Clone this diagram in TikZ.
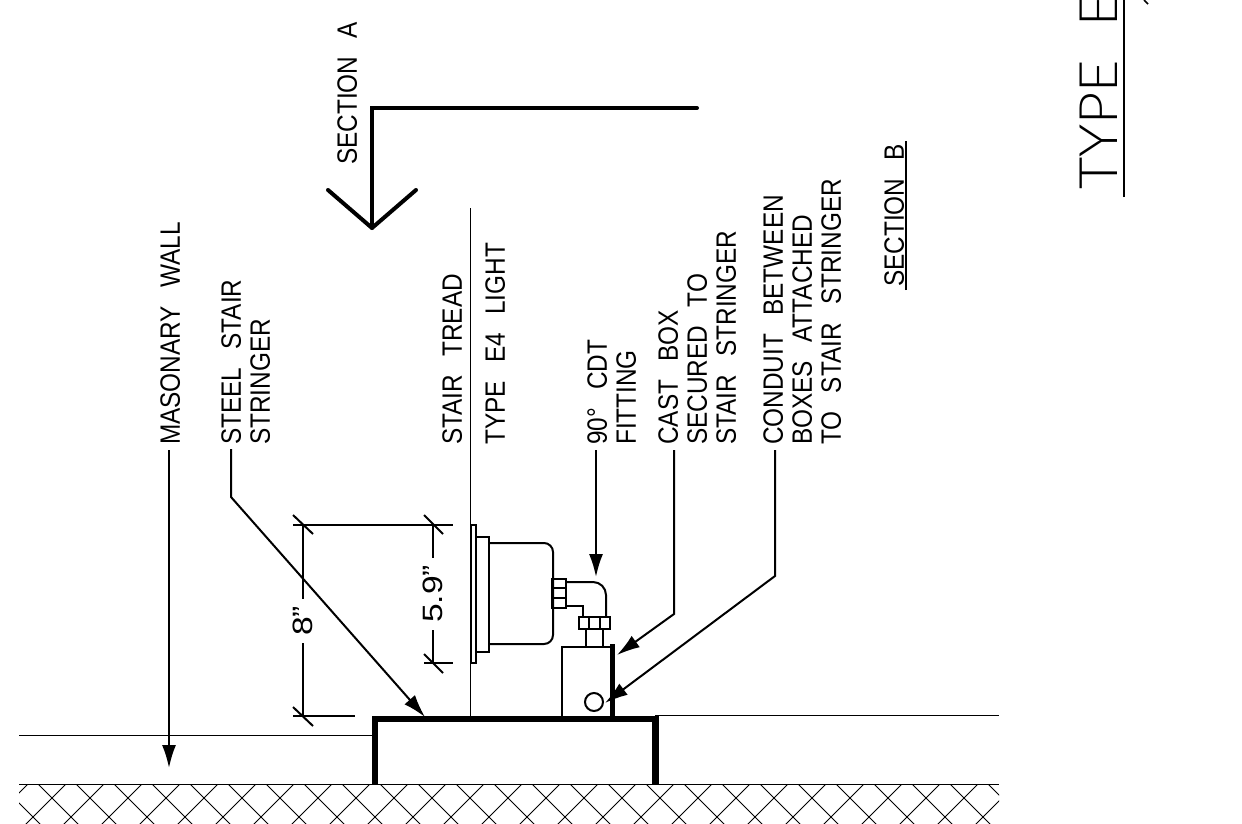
\documentclass[tikz,border=0pt]{standalone}
\usepackage{fontspec}
\usetikzlibrary{arrows.meta}
\newfontfamily\notefont[FakeStretch=0.87,WordSpace=2.7]{Liberation Sans}
\newfontfamily\dimfont[FakeStretch=1.2]{Liberation Sans}
\newfontfamily\titlefont[UprightFont=* Light,FakeStretch=1.05,WordSpace=2.2]{Lato}
\tikzset{
  note/.style={rotate=90,anchor=north west,inner sep=0pt,align=left,font=\notefont\fontsize{28}{29}\selectfont},
  dimtext/.style={rotate=90,inner sep=7pt,font=\dimfont\fontsize{28}{29}\selectfont},
  leader/.style={line width=2pt},
  thin line/.style={line width=1pt},
  part/.style={line width=2pt},
  heavy/.style={line width=6.3pt}
}
\begin{document}
\begin{tikzpicture}[x=1pt,y=-1pt,>={Latex[length=23pt,width=14pt]}]
      \useasboundingbox (0,0) rectangle (1242,823);
      % text
      \node[note] (wall) at (160,445) {MASONARY WALL};
      \node[note] (steel) at (221,445) {STEEL STAIR\\STRINGER};
      \node[note] (tread) at (442,445) {STAIR TREAD};
      \node[note] (light) at (485,445) {TYPE E4 LIGHT};
      \node[note] (elbow) at (587,445) {90° CDT\\FITTING};
      \node[note] (cast) at (658,445) {CAST BOX\\SECURED TO\\STAIR STRINGER};
      \node[note] (conduit) at (763,445) {CONDUIT BETWEEN\\BOXES ATTACHED\\TO STAIR STRINGER};
      \node[note] (secta) at (337,165) {SECTION A};
      \node[note] (sectb) at (884,287) {SECTION B};
      \node[rotate=90,anchor=north west,inner sep=0pt,font=\titlefont\fontsize{53}{55}\selectfont] (title) at (1080,190) {TYPE E};
      \node[dimtext] (eight) at (303,621) {8”};
      \node[dimtext] (five) at (433,594) {5.9”};
      % underlines
      \draw[line width=1.5pt] ([xshift=2pt,yshift=-3pt]sectb.south west) -- ([xshift=2pt,yshift=3pt]sectb.south east);
      \draw[line width=2pt] (1124,197) -- (1124,0);
      \draw[line width=1.5pt] (1144,0) -- (1148,4);
      % section arrow
      \draw[line width=4pt,line cap=round,line join=miter] (697,108) -- (372,108) -- (372,228);
      \draw[line width=4pt,line cap=round,line join=round] (328,190) -- (372,228) -- (416,190);
      % ground and floor lines
      \draw[thin line] (19,735) -- (372,735);
      \draw[thin line] (655,715) -- (999,715);
      \draw[thin line] (19,784) -- (999,784);
      \begin{scope}
        \clip (19,784) rectangle (999,823);
        \foreach \i in {-1,...,26}{
          \draw[thin line] (32+38*\i,778) -- (82+38*\i,828);
          \draw[thin line] (72+38*\i,778) -- (22+38*\i,828);
        }
      \end{scope}
      % stringer
      \draw[heavy,line join=miter] (375,784) -- (375,719) -- (655.5,719) -- (655.5,784);
      \draw[thin line] (470,208) -- (470,716);
      % light
      \draw[part] (471,525) rectangle (476,663);
      \draw[part] (476,537) rectangle (489,652);
      \draw[part,rounded corners=9pt] (489,543) -- (553,543) -- (553,644) -- (489,644);
      \draw[part] (552,579) rectangle (566,608);
      \draw[line width=1.3pt] (552,588) -- (566,588);
      \draw[line width=1.3pt] (552,598) -- (566,598);
      \draw[part,rounded corners=13pt] (566,582) -- (606,582) -- (606,617);
      \draw[part] (566,606) -- (583,606) -- (583,617);
      \draw[part] (579,617) rectangle (610,629);
      \draw[line width=1.3pt] (589,617) -- (589,629);
      \draw[line width=1.3pt] (600,617) -- (600,629);
      \draw[part] (586,629) -- (586,647);
      \draw[part] (603,629) -- (603,647);
      % box
      \draw[part] (612,647) -- (562,647) -- (562,716);
      \draw[line width=5pt] (612,644) -- (612,716);
      \draw[part] (594,702) circle (9);
      % dimensions
      \draw[leader] (293,525) -- (453,525);
      \draw[leader] (293,716) -- (355,716);
      \draw[leader] (424,663) -- (453,663);
      \draw[leader] (293,515) -- (313,534);
      \draw[leader] (293,707) -- (313,726);
      \draw[leader] (424,515) -- (443,534);
      \draw[leader] (424,654) -- (443,673);
      \draw[leader] (303,525) -- (eight.east);
      \draw[leader] (eight.west) -- (303,716);
      \draw[leader] (433,525) -- (five.east);
      \draw[leader] (five.west) -- (433,663);
      % leaders
      \coordinate (walltip) at (169,768);
      \coordinate (steeltip) at (425,717);
      \coordinate (elbowtip) at (596,577);
      \coordinate (casttip) at (617,655);
      \coordinate (conduittip) at (605,703);
      \draw[leader,->] ([xshift=9pt,yshift=-5pt]wall.north west) -- (walltip);
      \draw[leader,->] ([xshift=10pt,yshift=-4pt]steel.north west) -- (231,497) -- (steeltip);
      \draw[leader,->] ([xshift=9pt,yshift=-5pt]elbow.north west) -- (elbowtip);
      \draw[leader,->] ([xshift=16pt,yshift=-5pt]cast.north west) -- (674,614) -- (casttip);
      \draw[leader,->] ([xshift=12pt,yshift=-5pt]conduit.north west) -- (775,576) -- (conduittip);
\end{tikzpicture}
\end{document}
